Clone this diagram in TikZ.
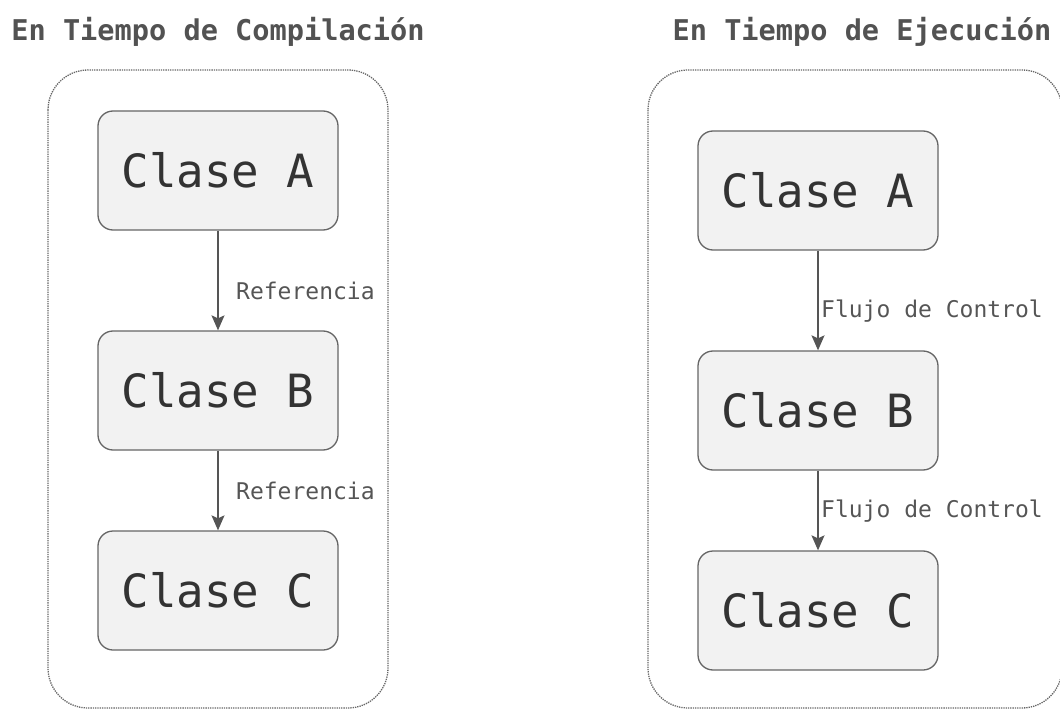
\documentclass[tikz,border=0pt]{standalone}
\usepackage{fontspec}
\setmonofont{DejaVu Sans Mono}
\newfontfamily\titlefont{DejaVu Sans Mono}
\usetikzlibrary{arrows.meta}
\definecolor{boxfill}{HTML}{F2F2F2}
\definecolor{boxline}{HTML}{666666}
\definecolor{arrowc}{HTML}{555555}
\definecolor{txtc}{HTML}{333333}
\definecolor{lblc}{HTML}{555555}
\definecolor{frame}{HTML}{666666}
\tikzset{
  classbox/.style={draw=boxline, line width=1.3pt, fill=boxfill, rounded corners=15pt,
    minimum width=240pt, minimum height=119pt, inner sep=0pt, text=txtc,
    font=\ttfamily\fontsize{45.8}{50}\selectfont},
  grp/.style={draw=frame, densely dotted, line width=1.3pt, rounded corners=40pt},
  ttl/.style={text=txtc!85!white, font=\titlefont\bfseries\fontsize{28.6}{32}\selectfont, inner sep=0pt},
  lbl/.style={text=lblc, font=\ttfamily\fontsize{23}{26}\selectfont, anchor=west, inner sep=0pt},
  conn/.style={draw=arrowc, line width=1.5pt, -{Stealth[length=15pt,width=13pt,inset=3pt]}}
}
\begin{document}
\begin{tikzpicture}[x=1pt,y=-1pt]
\useasboundingbox (0,0) rectangle (1060,711);
% containers
\draw[grp] (48,70) rectangle (388,708);
\draw[grp] (648,70) rectangle (1062,708);
% titles
\node[ttl] (t1) at (218,32) {En Tiempo de Compilación};
\node[ttl] (t2) at (862,32) {En Tiempo de Ejecución};
% left boxes
\node[classbox] (la) at (218,170.5) {Clase A};
\node[classbox] (lb) at (218,390.5) {Clase B};
\node[classbox] (lc) at (218,590.5) {Clase C};
% right boxes
\node[classbox] (ra) at (818,190.5) {Clase A};
\node[classbox] (rb) at (818,410.5) {Clase B};
\node[classbox] (rc) at (818,610.5) {Clase C};
% connectors
\draw[conn] (la) -- (lb);
\draw[conn] (lb) -- (lc);
\draw[conn] (ra) -- (rb);
\draw[conn] (rb) -- (rc);
% labels
\node[lbl] (l1) at (236,291) {Referencia};
\node[lbl] (l2) at (236,491) {Referencia};
\node[lbl] (l3) at (821,311) {Flujo de Control};
\node[lbl] (l4) at (821,511) {Flujo de Control};
\end{tikzpicture}
\end{document}
